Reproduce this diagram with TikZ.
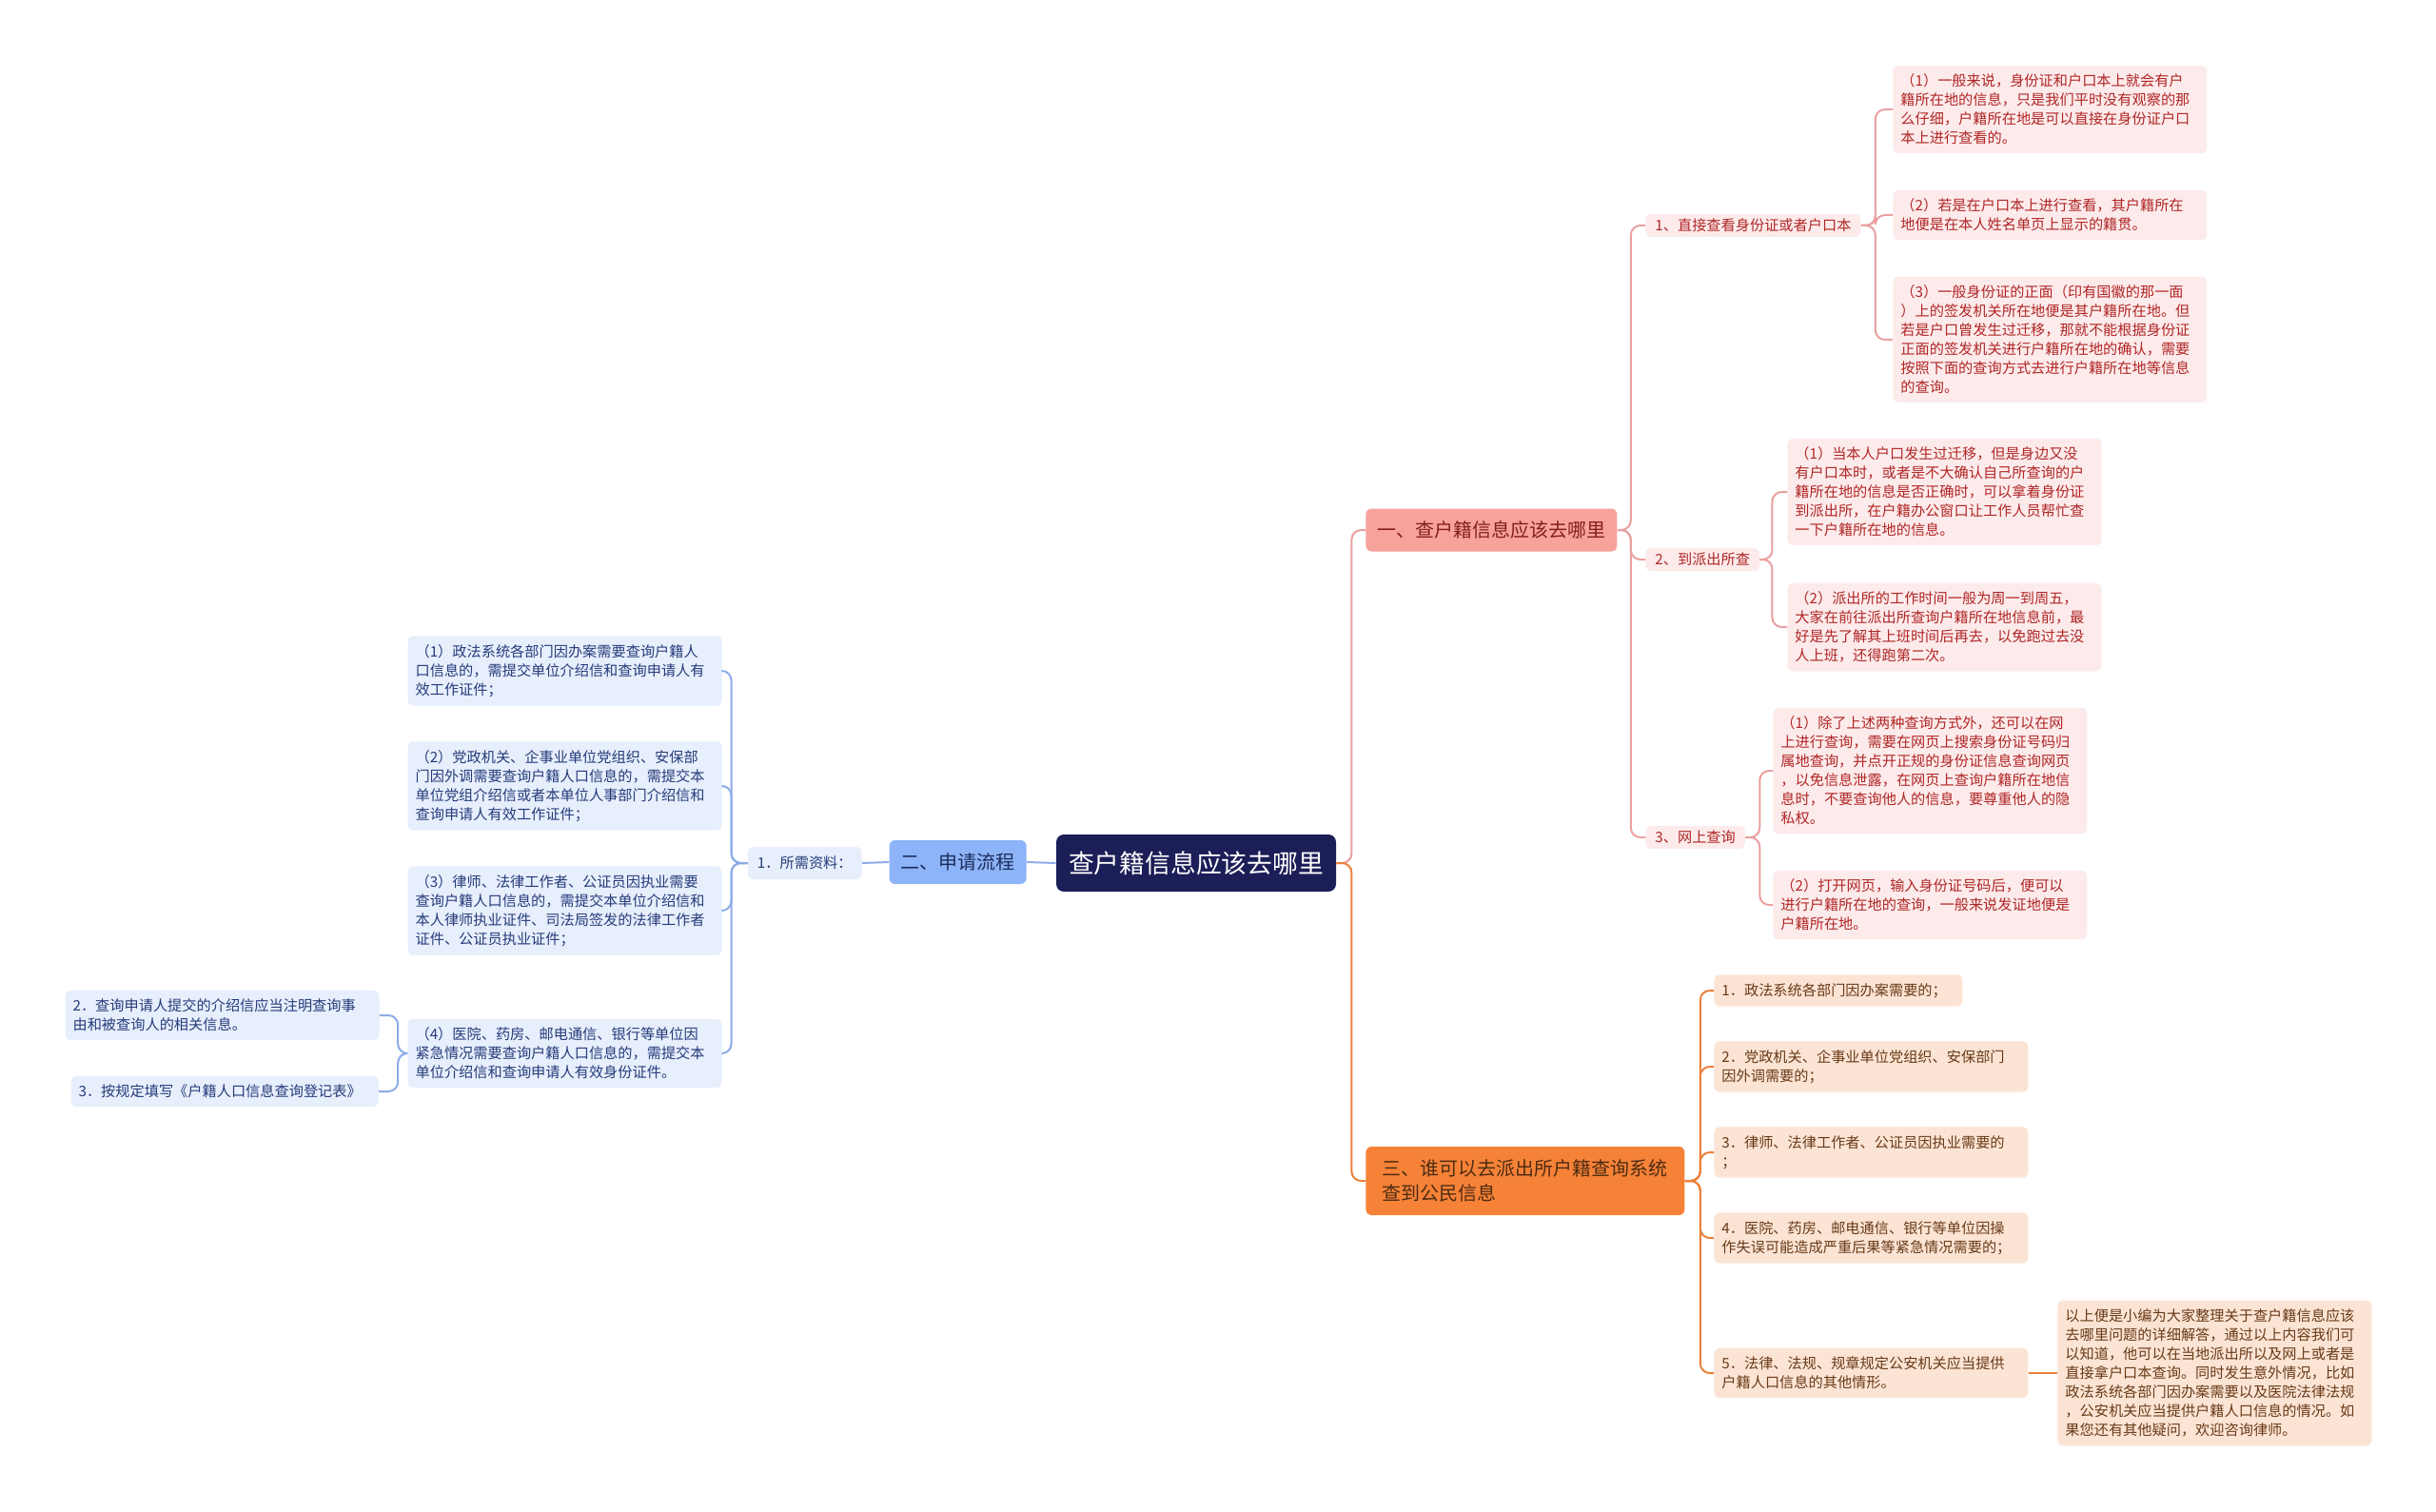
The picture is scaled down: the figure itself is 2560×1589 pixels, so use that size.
\documentclass[tikz,border=0pt]{standalone}
\usepackage{fontspec}
\setmainfont{Noto Sans CJK SC}
\usepackage{xcolor}
\usepackage{tikz}

\definecolor{rootfill}{RGB}{28,30,88}
\definecolor{pinkfill}{RGB}{253,235,235}
\definecolor{pinktext}{RGB}{176,38,38}
\definecolor{pinkline}{RGB}{234,160,160}
\definecolor{pinkmain}{RGB}{247,163,156}
\definecolor{bluefill}{RGB}{231,238,252}
\definecolor{bluetext}{RGB}{38,60,122}
\definecolor{blueline}{RGB}{140,172,232}
\definecolor{bluemain}{RGB}{141,180,248}
\definecolor{orgfill}{RGB}{252,228,212}
\definecolor{orgtext}{RGB}{104,58,24}
\definecolor{orgline}{RGB}{236,128,58}
\definecolor{orgmain}{RGB}{246,130,56}

\begin{document}
\begin{tikzpicture}[
  x=0.5pt, y=-0.5pt,
  root/.style={
    rectangle,
    rounded corners=4pt,
    fill=rootfill,
    text=white,
    minimum width=147pt,
    minimum height=30pt,
    font=\fontsize{13.4}{16}\selectfont
  },
  main/.style={
    rectangle,
    rounded corners=3pt,
    fill=#1main,
    text=#1text!75!black,
    align=left,
    inner xsep=6pt,
    inner ysep=5pt,
    font=\fontsize{10}{13}\selectfont
  },
  sub/.style={
    rectangle,
    rounded corners=3pt,
    fill=#1fill,
    text=#1text,
    inner xsep=5pt,
    inner ysep=2.5pt,
    font=\fontsize{7.6}{10}\selectfont
  },
  leaf/.style={
    rectangle,
    rounded corners=3pt,
    fill=#1fill,
    text=#1text,
    align=left,
    text width=157pt,
    inner xsep=4pt,
    inner ysep=4.5pt,
    font=\fontsize{7.6}{10}\selectfont
  },
  link/.style={draw=#1line, line width=1pt, rounded corners=5pt}
]

\fill[white] (0,0) rectangle (2560,1589);
\useasboundingbox (0,0) rectangle (2560,1589);

% ===================== root =====================
\node[root] (root) at (1257,907) {查户籍信息应该去哪里};

% ===================== (二) 申请流程, left =====================
\node[main=blue, minimum width=71pt, minimum height=23pt, anchor=east] (flow) at (1079,906) {二、申请流程};
\node[sub=blue, minimum height=17pt, anchor=east] (need) at (906,907) {1．所需资料：};

\node[leaf=blue, anchor=east] (need1) at (759,705) {（1）政法系统各部门因办案需要查询户籍人\\口信息的，需提交单位介绍信和查询申请人有\\效工作证件；};
\node[leaf=blue, anchor=east] (need2) at (759,826) {（2）党政机关、企事业单位党组织、安保部\\门因外调需要查询户籍人口信息的，需提交本\\单位党组介绍信或者本单位人事部门介绍信和\\查询申请人有效工作证件；};
\node[leaf=blue, anchor=east] (need3) at (759,957) {（3）律师、法律工作者、公证员因执业需要\\查询户籍人口信息的，需提交本单位介绍信和\\本人律师执业证件、司法局签发的法律工作者\\证件、公证员执业证件；};
\node[leaf=blue, anchor=east] (need4) at (759,1107) {（4）医院、药房、邮电通信、银行等单位因\\紧急情况需要查询户籍人口信息的，需提交本\\单位介绍信和查询申请人有效身份证件。};

\node[leaf=blue, anchor=east] (letter) at (399,1067) {2．查询申请人提交的介绍信应当注明查询事\\由和被查询人的相关信息。};
\node[leaf=blue, text width=153.5pt, anchor=east] (form) at (398,1147) {3．按规定填写《户籍人口信息查询登记表》};

\draw[link=blue] (root.west) -- (flow.east);
\draw[link=blue] (flow.west) -- (need.east);
\foreach \n in {need1,need2,need3,need4}
  \draw[link=blue] (need.west) -- ++(-17,0) |- (\n.east);
\foreach \n in {letter,form}
  \draw[link=blue] (need4.west) -- ++(-10,0) |- (\n.east);

% ===================== (一) 查户籍信息应该去哪里, right =====================
\node[main=pink, minimum width=131.5pt, minimum height=22.5pt, anchor=west] (where) at (1435,557) {一、查户籍信息应该去哪里};

\node[sub=pink, anchor=west] (card)   at (1729,237) {1、直接查看身份证或者户口本};
\node[sub=pink, anchor=west] (police) at (1729,588) {2、到派出所查};
\node[sub=pink, anchor=west] (online) at (1729,880) {3、网上查询};

\node[leaf=pink, anchor=west] (card1) at (1989,115) {（1）一般来说，身份证和户口本上就会有户\\籍所在地的信息，只是我们平时没有观察的那\\么仔细，户籍所在地是可以直接在身份证户口\\本上进行查看的。};
\node[leaf=pink, anchor=west] (card2) at (1989,226) {（2）若是在户口本上进行查看，其户籍所在\\地便是在本人姓名单页上显示的籍贯。};
\node[leaf=pink, anchor=west] (card3) at (1989,357) {（3）一般身份证的正面（印有国徽的那一面\\）上的签发机关所在地便是其户籍所在地。但\\若是户口曾发生过迁移，那就不能根据身份证\\正面的签发机关进行户籍所在地的确认，需要\\按照下面的查询方式去进行户籍所在地等信息\\的查询。};

\node[leaf=pink, anchor=west] (police1) at (1878,517) {（1）当本人户口发生过迁移，但是身边又没\\有户口本时，或者是不大确认自己所查询的户\\籍所在地的信息是否正确时，可以拿着身份证\\到派出所，在户籍办公窗口让工作人员帮忙查\\一下户籍所在地的信息。};
\node[leaf=pink, anchor=west] (police2) at (1878,659) {（2）派出所的工作时间一般为周一到周五，\\大家在前往派出所查询户籍所在地信息前，最\\好是先了解其上班时间后再去，以免跑过去没\\人上班，还得跑第二次。};

\node[leaf=pink, anchor=west] (online1) at (1863,810) {（1）除了上述两种查询方式外，还可以在网\\上进行查询，需要在网页上搜索身份证号码归\\属地查询，并点开正规的身份证信息查询网页\\，以免信息泄露，在网页上查询户籍所在地信\\息时，不要查询他人的信息，要尊重他人的隐\\私权。};
\node[leaf=pink, anchor=west] (online2) at (1863,951) {（2）打开网页，输入身份证号码后，便可以\\进行户籍所在地的查询，一般来说发证地便是\\户籍所在地。};

\draw[link=pink] (root.east) -- ++(16,0) |- (where.west);
\foreach \n in {card,police,online}
  \draw[link=pink] (where.east) -- ++(14,0) |- (\n.west);
\foreach \n in {card1,card2,card3}
  \draw[link=pink] (card.east) -- ++(15,0) |- (\n.west);
\foreach \n in {police1,police2}
  \draw[link=pink] (police.east) -- ++(13,0) |- (\n.west);
\foreach \n in {online1,online2}
  \draw[link=pink] (online.east) -- ++(15,0) |- (\n.west);

% ===================== (三) 谁可以去派出所, right =====================
\node[main=org, minimum width=167.5pt, minimum height=36pt, anchor=west] (who) at (1435,1241) {三、谁可以去派出所户籍查询系统\\查到公民信息};

\node[leaf=org, text width=122.5pt, anchor=west] (who1) at (1801,1041) {1．政法系统各部门因办案需要的；};
\node[leaf=org, anchor=west] (who2) at (1801,1121) {2．党政机关、企事业单位党组织、安保部门\\因外调需要的；};
\node[leaf=org, anchor=west] (who3) at (1801,1211) {3．律师、法律工作者、公证员因执业需要的\\；};
\node[leaf=org, anchor=west] (who4) at (1801,1301) {4．医院、药房、邮电通信、银行等单位因操\\作失误可能造成严重后果等紧急情况需要的；};
\node[leaf=org, anchor=west] (who5) at (1801,1443) {5．法律、法规、规章规定公安机关应当提供\\户籍人口信息的其他情形。};

\node[leaf=org, anchor=west] (summary) at (2162,1443) {以上便是小编为大家整理关于查户籍信息应该\\去哪里问题的详细解答，通过以上内容我们可\\以知道，他可以在当地派出所以及网上或者是\\直接拿户口本查询。同时发生意外情况，比如\\政法系统各部门因办案需要以及医院法律法规\\，公安机关应当提供户籍人口信息的情况。如\\果您还有其他疑问，欢迎咨询律师。};

\draw[link=org] (root.east) -- ++(16,0) |- (who.west);
\foreach \n in {who1,who2,who3,who4,who5}
  \draw[link=org] (who.east) -- ++(16,0) |- (\n.west);
\draw[link=org] (who5.east) -- (summary.west);

\end{tikzpicture}
\end{document}
